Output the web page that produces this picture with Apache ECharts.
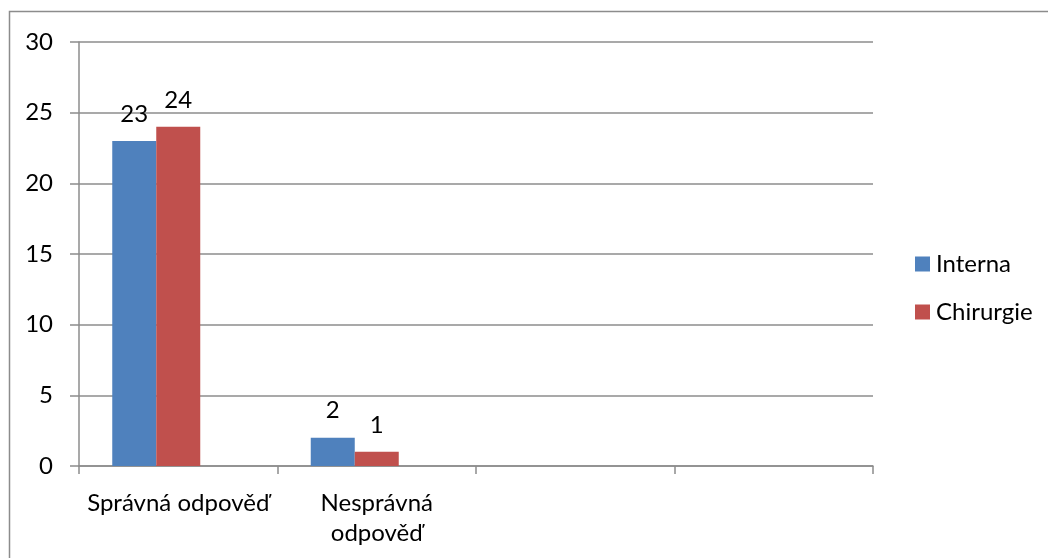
<!DOCTYPE html>
<html>
<head>
<meta charset="utf-8">
<script src="https://cdn.jsdelivr.net/npm/echarts@6/dist/echarts.min.js"></script>
<style>
html,body{margin:0;padding:0;background:#fff;}
#chart{width:1048px;height:558px;}
</style>
</head>
<body>
<div id="chart"></div>
<script>
const categories = ['Správná odpověď', 'Nesprávná\nodpověď', '', ''];
const seriesNames = ['Interna', 'Chirurgie'];
const interna = [23, 2, null, null];
const chirurgie = [24, 1, null, null];
const emptySeries = [null, null, null, null];
const yTicks = { min: 0, max: 30, interval: 5 };

const FONT = 'Lato';
const FS = 24;
const chart = echarts.init(document.getElementById('chart'), null, { renderer: 'canvas' });
const gridColor = '#8c8c8c';

const labelStyle = {
  show: true, position: 'top', distance: 15,
  color: '#000', fontFamily: FONT, fontSize: FS
};

chart.setOption({
  animation: false,
  backgroundColor: '#fff',
  textStyle: { fontFamily: FONT },
  graphic: [{
    type: 'rect',
    shape: { x: 9.5, y: 11.5, width: 1100, height: 600 },
    style: { fill: 'none', stroke: '#8c8c8c', lineWidth: 1.5 },
    silent: true
  }],
  grid: { left: 79, right: 175, top: 42, bottom: 92, containLabel: false },
  legend: {
    data: seriesNames,
    orient: 'vertical',
    left: 910, top: 247,
    itemWidth: 15, itemHeight: 15, itemGap: 24,
    icon: 'rect',
    textStyle: { color: '#000', fontFamily: FONT, fontSize: FS, lineHeight: 24, padding: [0, 0, 0, 1] }
  },
  xAxis: {
    type: 'category',
    data: categories,
    axisLine: { lineStyle: { color: gridColor, width: 1.5 } },
    axisTick: { show: true, length: 8, lineStyle: { color: gridColor, width: 1.5 } },
    axisLabel: {
      color: '#000', fontFamily: FONT, fontSize: FS, lineHeight: 30,
      margin: 22, interval: 0
    }
  },
  yAxis: {
    type: 'value',
    min: yTicks.min, max: yTicks.max, interval: yTicks.interval,
    axisLine: { show: true, lineStyle: { color: gridColor, width: 1.5 } },
    axisTick: { show: true, length: 9, inside: false, lineStyle: { color: gridColor, width: 1.5 } },
    splitLine: { show: true, lineStyle: { color: gridColor, width: 1.5 } },
    axisLabel: { color: '#000', fontFamily: FONT, fontSize: FS, margin: 26 }
  },
  series: [
    { name: seriesNames[0], type: 'bar', data: interna, barWidth: 44, barGap: '0%',
      itemStyle: { color: '#4f81bd' }, label: labelStyle },
    { name: seriesNames[1], type: 'bar', data: chirurgie, barWidth: 44, barGap: '0%',
      itemStyle: { color: '#c0504d' }, label: labelStyle },
    { name: '', type: 'bar', data: emptySeries, barWidth: 44, barGap: '0%',
      itemStyle: { color: '#9bbb59' } }
  ]
});
</script>
</body>
</html>
